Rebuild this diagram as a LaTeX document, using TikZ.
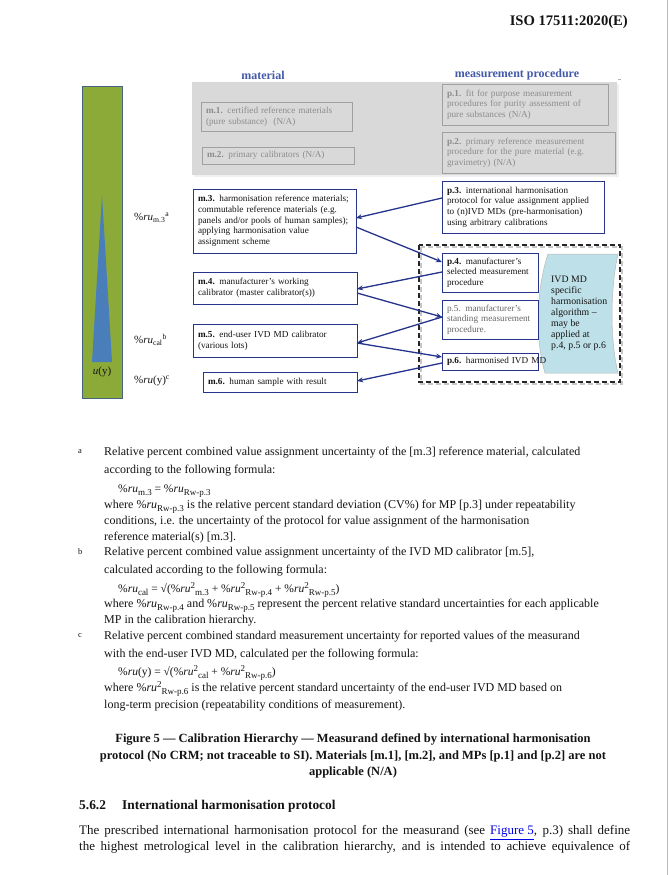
\documentclass[tikz,border=0pt]{standalone}
\usepackage{fontspec}
\setmainfont{Liberation Serif}
\usetikzlibrary{arrows.meta,calc}
\definecolor{navy}{RGB}{38,52,140}
\definecolor{hdrblue}{RGB}{68,90,170}
\definecolor{grayfill}{RGB}{217,217,217}
\definecolor{grayline}{RGB}{160,160,160}
\definecolor{graytext}{RGB}{140,140,140}
\definecolor{barGreen}{RGB}{140,170,56}
\definecolor{barEdge}{RGB}{70,100,130}
\definecolor{triBlue}{RGB}{74,126,187}
\definecolor{algoBlue}{RGB}{190,224,232}
\definecolor{linkblue}{RGB}{0,0,230}
\definecolor{txt}{RGB}{20,20,20}
\newcommand\pru{\%\textit{ru}}
\newcommand\lo[1]{\raisebox{-0.45ex}{\fontsize{9}{10}\selectfont #1}}
\newcommand\hi[1]{\raisebox{0.75ex}{\fontsize{9}{10}\selectfont #1}}
\begin{document}
\begin{tikzpicture}[x=1pt,y=-1pt,
  mbox/.style={draw=navy, line width=1pt, fill=white, anchor=north west, align=left,
    inner xsep=5pt, inner ysep=0pt, outer sep=0pt, text=txt,
    font=\fontsize{9.2}{10.7}\selectfont},
  gbox/.style={mbox, draw=grayline, fill=grayfill, text=graytext},
  conn/.style={draw=navy, line width=1.3pt, -{Stealth[length=6pt,width=5pt]}},
  notetext/.style={anchor=west, inner sep=0pt, text=txt, font=\fontsize{12}{14}\selectfont\strut},
  formula/.style={notetext, font=\fontsize{11.5}{14}\selectfont\strut},
  notemark/.style={anchor=west, inner sep=0pt, text=txt, font=\fontsize{8.5}{10}\selectfont},
  captext/.style={anchor=center, inner sep=0pt, text=txt, font=\fontsize{12.5}{14}\selectfont\bfseries\strut},
  bodytext/.style={anchor=west, inner sep=0pt, text=txt, font=\fontsize{13}{15}\selectfont\strut},
  hdrtext/.style={anchor=center, inner sep=0pt, text=hdrblue, font=\fontsize{12}{14}\selectfont\bfseries},
  lbltext/.style={anchor=west, inner sep=0pt, text=txt, font=\fontsize{11}{13}\selectfont}
]
\useasboundingbox (0,0) rectangle (670,875);
\fill[white] (0,0) rectangle (670,875);
% page edge
\draw[gray!55, line width=0.8pt] (667,0) -- (667,875);
\draw[gray!60, line width=0.6pt] (618,79) -- (621,79);

% running header
\node[anchor=east, inner sep=0pt, text=txt, font=\fontsize{14.6}{16}\selectfont\bfseries] (hd) at (628,22) {ISO 17511:2020(E)};

% column headings
\node[hdrtext] (hmat) at (263,75) {material};
\node[hdrtext] (hmp) at (517,75) {measurement procedure};

% grey N/A area
\fill[gray!12] (194,84) rectangle (619,177);
\fill[grayfill] (192,82) rectangle (617,175);

\node[gbox, text width=141pt, minimum height=29pt] (m1) at (201,102) {\textbf{m.1.} certified reference materials\\(pure substance)~ (N/A)};
\node[gbox, text width=142pt, minimum height=17pt] (m2) at (202,147) {\textbf{m.2.} primary calibrators (N/A)};
\node[gbox, text width=156pt, minimum height=41pt] (p1) at (442,84) {\textbf{p.1.} fit for purpose measurement\\procedures for purity assessment of\\pure substances (N/A)};
\node[gbox, text width=163pt, minimum height=41pt] (p2) at (442,132) {\textbf{p.2.} primary reference measurement\\procedure for the pure material (e.g.\\gravimetry) (N/A)};

% active boxes
\node[mbox, text width=152pt, minimum height=52pt] (p3) at (442,181) {\textbf{p.3.} international harmonisation\\protocol for value assignment applied\\to (n)IVD MDs (pre-harmonisation)\\using arbitrary calibrations};
\node[mbox, text width=153pt, minimum height=64pt] (m3) at (193,189) {\textbf{m.3.} harmonisation reference materials;\\commutable reference materials (e.g.\\panels and/or pools of human samples);\\applying harmonisation value\\assignment scheme};
\node[mbox, text width=154pt, minimum height=32pt] (m4) at (193,272) {\textbf{m.4.} manufacturer's working\\calibrator (master calibrator(s))};
\node[mbox, text width=154pt, minimum height=33pt] (m5) at (193,324) {\textbf{m.5.} end-user IVD MD calibrator\\(various lots)};
\node[mbox, text width=144pt, minimum height=20pt] (m6) at (203,372) {\textbf{m.6.} human sample with result};

% dashed group
\draw[gray!45, line width=2pt, dash pattern=on 5pt off 3pt] (421,247) rectangle (622,384);
\draw[black!85, line width=2pt, dash pattern=on 5pt off 3pt] (419,245) rectangle (620,382);

% algorithm shape
\path[fill=algoBlue, draw=gray!55, line width=0.5pt]
  (548,254) -- (618,254) .. controls (610,290) and (610,340) .. (618,373)
  -- (545,373) .. controls (535,340) and (536,290) .. (548,254) -- cycle;
\node[anchor=north west, align=left, inner sep=0pt, text=txt, font=\fontsize{9.8}{11}\selectfont] (algo) at (551,276) {IVD MD\\specific\\harmonisation\\algorithm --\\may be\\applied at\\p.4, p.5 or p.6};

\node[mbox, text width=86pt, minimum height=39pt] (p4) at (442,253) {\textbf{p.4.} manufacturer's\\selected measurement\\procedure};
\node[mbox, text width=86pt, minimum height=39pt, text=black!60] (p5) at (442,300) {p.5. manufacturer's\\standing measurement\\procedure.};
\node[mbox, text width=86pt, minimum height=17pt] (p6) at (442,353) {\mbox{\textbf{p.6.} harmonised IVD MD}};

% connectors
\draw[conn] ($(p3.north west)+(0,17)$) -- ($(m3.north east)+(0,29)$);
\draw[conn] ($(m3.north east)+(0,38)$) -- ($(p4.north west)+(0,9)$);
\draw[conn] ($(p4.north west)+(0,19)$) -- ($(m4.north east)+(0,17)$);
\draw[conn] ($(m4.north east)+(0,21)$) -- ($(p5.north west)+(0,17)$);
\draw[conn] ($(p5.north west)+(0,17)$) -- ($(m5.north east)+(0,19)$);
\draw[conn] ($(m5.north east)+(0,19)$) -- ($(p6.north west)+(0,4)$);
\draw[conn] ($(p6.north west)+(0,10)$) -- ($(m6.north east)+(0,9)$);

% uncertainty bar
\draw[fill=barGreen, draw=barEdge, line width=0.6pt] (82,86) rectangle (122,398);
\fill[triBlue] (102,195) -- (112,362) -- (92,362) -- cycle;
\node[anchor=center, inner sep=0pt, text=txt, font=\fontsize{11}{13}\selectfont] (uy) at (102,372) {\textit{u}(y)};
\node[lbltext] (l1) at (134,218) {\pru\textsubscript{m.3}\textsuperscript{a}};
\node[lbltext] (l2) at (134,340) {\pru\textsubscript{cal}\textsuperscript{b}};
\node[lbltext] (l3) at (134,381) {\pru(y)\textsuperscript{c}};

% notes
\node[notemark] (na) at (78,452) {a};
\node[notetext] at (104,453) {Relative percent combined value assignment uncertainty of the [m.3] reference material, calculated};
\node[notetext] at (104,471) {according to the following formula:};
\node[formula] at (118,490) {\pru\lo{m.3} = \pru\lo{Rw-p.3}};
\node[notetext] at (104,506) {where \pru\lo{Rw-p.3} is the relative percent standard deviation (CV\%) for MP [p.3] under repeatability};
\node[notetext] at (104,522) {conditions, i.e. the uncertainty of the protocol for value assignment of the harmonisation};
\node[notetext] at (104,538) {reference material(s) [m.3].};
\node[notemark] (nb) at (78,552) {b};
\node[notetext] at (104,553) {Relative percent combined value assignment uncertainty of the IVD MD calibrator [m.5],};
\node[notetext] at (104,571) {calculated according to the following formula:};
\node[formula] at (118,590) {\pru\lo{cal} = √(\pru\hi{2}\lo{m.3} + \pru\hi{2}\lo{Rw-p.4} + \pru\hi{2}\lo{Rw-p.5})};
\node[notetext] at (104,605) {where \pru\lo{Rw-p.4} and \pru\lo{Rw-p.5} represent the percent relative standard uncertainties for each applicable};
\node[notetext] at (104,621) {MP in the calibration hierarchy.};
\node[notemark] (nc) at (78,636) {c};
\node[notetext] at (104,637) {Relative percent combined standard measurement uncertainty for reported values of the measurand};
\node[notetext] at (104,655) {with the end-user IVD MD, calculated per the following formula:};
\node[formula] at (118,673) {\pru(y) = √(\pru\hi{2}\lo{cal} + \pru\hi{2}\lo{Rw-p.6})};
\node[notetext] at (104,689) {where \pru\hi{2}\lo{Rw-p.6} is the relative percent standard uncertainty of the end-user IVD MD based on};
\node[notetext] at (104,706) {long-term precision (repeatability conditions of measurement).};

% caption
\node[captext] (c1) at (353,740) {Figure 5 — Calibration Hierarchy — Measurand defined by international harmonisation};
\node[captext] (c2) at (353,757) {protocol (No CRM; not traceable to SI). Materials [m.1], [m.2], and MPs [p.1] and [p.2] are not};
\node[captext] (c3) at (353,773) {applicable (N/A)};

% section
\node[bodytext, font=\fontsize{13.4}{15}\selectfont\bfseries\strut] (s1) at (79,806) {5.6.2};
\node[bodytext, font=\fontsize{13.4}{15}\selectfont\bfseries\strut] (s2) at (122,806) {International harmonisation protocol};
\node[bodytext] (b1) at (79,832) {\makebox[551pt][s]{The prescribed international harmonisation protocol for the measurand (see \textcolor{linkblue}{\underline{Figure 5}}, p.3) shall define}};
\node[bodytext] (b2) at (79,847) {\makebox[551pt][s]{the highest metrological level in the calibration hierarchy, and is intended to achieve equivalence of}};
\end{tikzpicture}
\end{document}
